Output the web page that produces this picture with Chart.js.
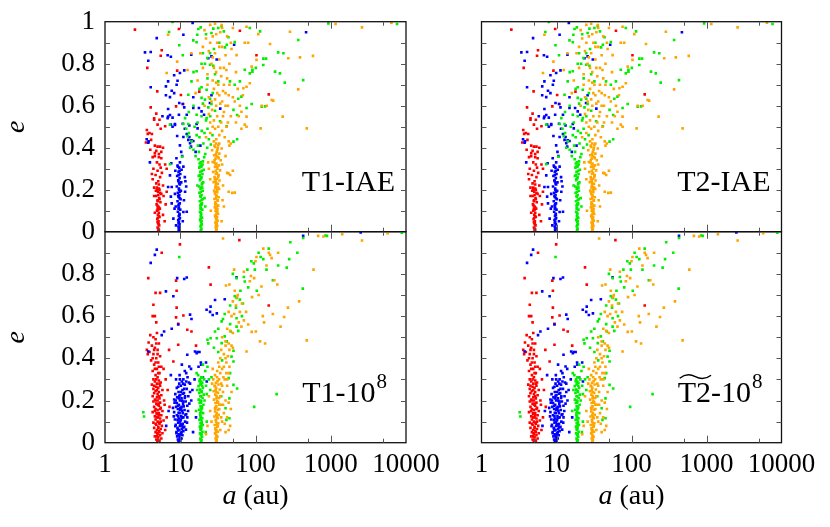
<!DOCTYPE html>
<html><head><meta charset="utf-8">
<script src="https://cdn.jsdelivr.net/npm/chart.js@4/dist/chart.umd.min.js"></script>
<style>
body{margin:0;background:#fff}
#wrap{position:relative;width:830px;height:527px;overflow:hidden;font-family:'Liberation Serif'}
#wrap canvas{position:absolute;left:0;top:0}
</style>
</head><body>
<div id="wrap">
<canvas id="c1" width="830" height="527"></canvas>
<canvas id="c2" width="830" height="527"></canvas>
<canvas id="c3" width="830" height="527"></canvas>
<canvas id="c4" width="830" height="527"></canvas>
</div>
<script>
// ---- axis / tick definitions ----
const xTickValues = [1, 10, 100, 1000, 10000];
const xMarkValues = [5, 10, 50, 100, 500, 1000, 5000];
const yTickValues = [0, 0.2, 0.4, 0.6, 0.8, 1];
const yMarkValues = [0.1, 0.2, 0.3, 0.4, 0.5, 0.6, 0.7, 0.8, 0.9];
const panelNames = ['T1-IAE', 'T2-IAE', 'T1-10', 'T2-10'];
const panelSups = ['', '', '8', '8'];
const xTitleItalic = 'a';
const xTitleRest = ' (au)';
const yTitle = 'e';

// ---- IAE runs (top panels): [a (au), e] ----
const iaeRed = [[5.1,0.005],[5.2,0.01],[5.0,0.02],[5.25,0.03],[5.1,0.04],[5.15,0.05],[4.95,0.06],[5.3,0.07],[5.05,0.08],[5.2,0.09],[4.9,0.1],[5.35,0.11],[5.1,0.12],[4.85,0.13],[5.45,0.14],[5.0,0.15],[5.25,0.16],[4.8,0.17],[5.6,0.18],[5.05,0.19],[5.3,0.2],[4.9,0.21],[5.15,0.035],[5.05,0.065],[5.2,0.115],[5.0,0.145],[5.4,0.185],[4.75,0.195],
[5.1,0.015],[5.0,0.045],[5.2,0.075],[5.1,0.105],[4.95,0.125],[5.3,0.155],[5.1,0.175],[4.9,0.2],[5.2,0.205],[5.0,0.11],
[6.0,0.17],[6.4,0.13],[5.9,0.08],[6.2,0.05],[4.6,0.09],[4.5,0.17],[6.6,0.19],
[4.6,0.36],[5.2,0.355],[5.6,0.35],[4.9,0.33],[5.3,0.32],[4.4,0.3],[5.0,0.29],[5.7,0.28],[4.7,0.27],[5.4,0.26],[4.3,0.25],[5.1,0.24],[4.8,0.23],[5.9,0.22],[4.5,0.21],[5.2,0.225],[4.2,0.275],[5.5,0.305],
[3.6,0.484],[3.9,0.47],[4.2,0.465],[3.7,0.466],[4.1,0.437],[4.6,0.41],[5.0,0.405],[5.4,0.405],[5.9,0.4],[5.5,0.49],[4.5,0.54],[5.0,0.51],[4.6,0.374],[4.8,0.385],[5.2,0.37],[5.6,0.38],[3.5,0.425],[4.0,0.39],[4.3,0.355],[6.3,0.32],[6.6,0.3],
[2.5,0.962],[9.6,0.965],[62,0.957],[5.67,0.864],[5.5,0.838],[3.65,0.78],[103,0.84],[4.95,0.668],[10.2,0.651],[4.05,0.592],[8.8,0.597],[4.8,0.562],[150,0.654],[10.9,0.608],[4.5,0.533],[5.3,0.533],[6.3,0.502],[17.9,0.667],[9.1,0.767]];

const iaeBlue = [[9.6,0.005],[9.7,0.015],[9.5,0.025],[9.8,0.035],[9.6,0.045],[9.4,0.055],[9.9,0.065],[9.55,0.075],[9.75,0.085],[9.3,0.095],[10.0,0.105],[9.6,0.115],[9.45,0.125],[9.85,0.135],[9.2,0.145],[10.1,0.155],[9.5,0.165],[9.7,0.175],[9.3,0.185],[10.2,0.195],[9.6,0.205],[9.0,0.215],[9.9,0.225],[10.3,0.235],[9.4,0.245],[9.8,0.255],[9.1,0.265],[10.0,0.275],[9.5,0.285],[10.4,0.295],[9.7,0.305],[9.2,0.315],[9.9,0.33],[9.6,0.02],[9.7,0.06],[9.5,0.11],[9.8,0.16],[9.65,0.2],[9.45,0.24],
[9.6,0.01],[9.5,0.04],[9.8,0.08],[9.6,0.13],[9.4,0.17],[9.9,0.19],[9.7,0.23],[9.5,0.27],[9.8,0.29],[9.3,0.31],
[8.1,0.062],[11.0,0.094],[8.4,0.11],[8.7,0.12],[7.7,0.213],[6.9,0.213],[7.3,0.268],[11.2,0.15],[8.8,0.03],[10.8,0.05],[11.5,0.26],[8.6,0.29],[11.0,0.31],[8.5,0.18],[11.6,0.19],[12.0,0.215],[11.7,0.24],[12.2,0.095],[7.6,0.326],[7.5,0.167],[7.7,0.135],
[11.0,0.451],[11.5,0.49],[10.8,0.514],[13.2,0.451],[14.1,0.435],[9.9,0.411],[3.76,0.424],[3.95,0.33],[3.58,0.44],[3.8,0.43],[7.3,0.556],[6.9,0.548],[8.5,0.508],[7.9,0.5],[9.1,0.456],[12.2,0.465],[12.8,0.437],[13.5,0.421],[13.9,0.405],[14.9,0.432],[17,0.492],[10.3,0.38],[10.6,0.36],[8.9,0.35],[16,0.38],[18.5,0.41],
[3.4,0.854],[4.05,0.856],[4.87,0.922],[3.76,0.814],[6.8,0.84],[7.5,0.833],[14.6,0.994],[11.0,0.938],[14.0,0.843],[23.6,0.826],[26,0.835],[52,0.89],[11.3,0.768],[9.9,0.756],[8.3,0.745],[6.9,0.716],[9.2,0.719],[8.95,0.7],[4.05,0.688],[6.45,0.692],[7.7,0.671],[8.3,0.66],[6.45,0.65],[7.3,0.641],[14.9,0.64],[9.7,0.613],[10.8,0.608],[11.3,0.592],[14.9,0.589],[6.9,0.584],[5.8,0.55],[6.8,0.541],[7.9,0.543],[9.6,0.557],[12.2,0.557],[17.7,0.589],[19.2,0.573],[20.7,0.557],[26,0.65],[24.8,0.613],[34,0.586],[7.5,0.51],[8.5,0.513],[13.2,0.506],[16.5,0.513],[470,0.95],[30.5,0.82]];

const iaeGreen = [[18.8,0.005],[19.1,0.015],[18.6,0.025],[19.3,0.035],[18.9,0.045],[18.4,0.055],[19.5,0.065],[18.7,0.075],[19.0,0.085],[18.3,0.095],[19.6,0.105],[18.8,0.115],[18.5,0.125],[19.4,0.135],[18.2,0.145],[19.8,0.155],[18.7,0.165],[19.2,0.175],[18.0,0.185],[19.9,0.195],[18.6,0.205],[17.8,0.215],[19.4,0.225],[20.2,0.235],[18.3,0.245],[19.0,0.255],[17.6,0.265],[19.7,0.275],[18.5,0.285],[20.5,0.295],[17.9,0.305],[19.2,0.315],[18.1,0.325],[20.0,0.335],[17.5,0.345],[18.9,0.03],[19.1,0.07],[18.6,0.11],[19.2,0.15],[18.8,0.19],[19.5,0.23],[18.2,0.27],[19.0,0.31],
[18.9,0.01],[19.2,0.05],[18.7,0.09],[19.3,0.13],[18.5,0.17],[19.6,0.21],[18.4,0.25],[19.4,0.29],[18.7,0.33],[19.0,0.21],[18.9,0.13],[19.1,0.26],[18.3,0.31],[19.8,0.32],[18.6,0.06],
[16.0,0.36],[21.5,0.37],[15.0,0.39],[22.8,0.4],[17.2,0.41],[20.3,0.42],[14.2,0.43],[24.0,0.44],[18.0,0.45],[16.5,0.46],[21.0,0.47],[19.3,0.48],[15.5,0.5],[23.0,0.49],[17.7,0.38],[20.8,0.355],[13.5,0.4],[25.5,0.415],[26.8,0.46],[12.5,0.455],
[21.5,0.12],[21.0,0.16],[16.9,0.22],[7.3,0.322],[10.6,0.357],[13.0,0.47],[12.0,0.49],
[17,0.52],[22,0.53],[25,0.55],[15,0.6],[20,0.61],[27,0.66],[18,0.68],[23,0.73],[29,0.75],[15,0.76],[20,0.85],[28,0.87],[33,0.9],[22,0.94],[13,0.57],
[7.9,0.999],[7.1,0.951],[9.7,0.888],[10.8,0.84],[16.8,0.938],[17.4,0.965],[18.7,0.973],[14.9,0.911],[16.5,0.902],[26,0.946],[27.5,0.967],[32,0.97],[35.5,0.978],[38,0.954],[43.7,0.926],[41.5,0.89],[39.3,0.878],[53,0.903],[84,0.97],[115,0.954],[101,0.78],[91,0.771],[72,0.771],[19.2,0.8],[21.3,0.8],[24.9,0.795],[27.5,0.79],[22.9,0.827],[24.9,0.85],[16.5,0.764],[14.1,0.716],[19.2,0.688],[22.4,0.676],[32,0.716],[45.8,0.716],[62,0.716],[53,0.7],[12.8,0.652],[19.2,0.637],[21.3,0.629],[24.9,0.633],[26,0.608],[23.6,0.592],[29,0.576],[127,0.824],[138,0.824],[134,0.597],[76,0.589],[59,0.633],[16.5,0.557],[19.2,0.55],[22.4,0.541],[11.6,0.541],[7.3,0.51],[11,0.513],[12.8,0.513],[33.8,0.526],[41.5,0.502],[930,0.992],[7600,0.989],[370,0.913],[200,0.854],[235,0.85],[430,0.722],[245,0.71],[182,0.762],[211,0.754],[127,0.794],[84,0.754],[91,0.762],[121,0.595],[89,0.608],[65,0.643],[51,0.58],[57,0.556],[51,0.429],[57,0.44]];

const iaeOrange = [[30.0,0.005],[30.5,0.012],[29.6,0.02],[31.0,0.028],[30.2,0.036],[29.2,0.044],[31.4,0.052],[30.0,0.06],[30.8,0.068],[29.0,0.076],[31.8,0.084],[30.3,0.092],[29.5,0.1],[31.2,0.108],[28.8,0.116],[32.0,0.124],[30.1,0.132],[29.3,0.14],[31.5,0.148],[28.5,0.156],[32.4,0.164],[30.4,0.172],[29.0,0.18],[31.0,0.188],[28.2,0.196],[32.8,0.204],[30.0,0.212],[29.6,0.22],[31.6,0.228],[27.8,0.236],[33.2,0.244],[30.6,0.252],[28.6,0.26],[32.2,0.268],[29.8,0.276],[27.4,0.284],[33.8,0.292],[31.2,0.3],[28.9,0.308],[32.6,0.316],[30.2,0.324],[27.0,0.332],[34.5,0.34],[29.4,0.348],[31.8,0.356],[28.2,0.364],[33.0,0.372],[30.5,0.38],[26.5,0.388],[35.5,0.396],[29.0,0.404],[32.0,0.412],[30.0,0.42],[28.0,0.43],
[30.4,0.04],[29.8,0.08],[30.6,0.12],[29.9,0.16],[30.9,0.2],[29.7,0.24],[30.7,0.28],[29.5,0.32],[30.3,0.36],[31.5,0.4],[30.1,0.44],[31.0,0.1],[29.3,0.21],[31.9,0.26],[28.6,0.34],
[30.2,0.015],[29.9,0.03],[30.5,0.055],[29.4,0.07],[31.1,0.09],[30.0,0.11],[29.1,0.13],[31.3,0.15],[30.2,0.17],[28.7,0.19],[31.7,0.21],[30.0,0.23],[28.9,0.25],[32.0,0.27],[29.6,0.29],[31.0,0.31],[28.3,0.33],[32.4,0.35],[29.8,0.37],[31.2,0.39],[28.6,0.41],[33,0.42],
[42,0.28],[46,0.27],[50,0.29],[44,0.19],[49,0.185],[53,0.186],[43.7,0.278],[45,0.41],[47,0.42],[44,0.43],[65,0.49],[72,0.51],[76,0.5],[24,0.3],[23.5,0.33],[25,0.25],[37,0.22],[38,0.12],[36,0.32],[40,0.36],[35.5,0.05],[36.5,0.15],[25.5,0.1],
[22,0.45],[25,0.47],[27,0.5],[33,0.46],[36,0.48],[39,0.45],[28,0.53],[31,0.55],[35,0.52],[41,0.5],[24,0.56],[26.5,0.58],[30,0.6],[34,0.61],[38,0.57],[43,0.6],[47,0.55],[29,0.63],[33,0.65],[37,0.67],[21,0.6],[24,0.64],[28,0.68],[32,0.7],[40,0.66],[45,0.7],[50,0.64],[27,0.72],[35,0.74],[42,0.73],[23,0.7],[30,0.76],[38,0.78],[26,0.8],[33,0.82],[29,0.85],[24,0.86],[36,0.88],[31,0.9],[27,0.93],[34,0.95],[22,0.92],[40,0.84],[45,0.8],[48,0.87],[55,0.76],[58,0.68],[62,0.6],[53,0.62],[68,0.65],[55,0.52],[60,0.55],
[25,0.52],[29,0.49],[32,0.5],[37,0.55],[43,0.52],[26,0.62],[31,0.66],[36,0.62],[40,0.6],[44,0.65],[23,0.75],[28,0.78],[34,0.78],[41,0.77],[25,0.9],[30,0.94],[36,0.97],[42,0.93],[20,0.88],[47,0.9],[50,0.97],[33,0.88],[38,0.7],[30,0.71],[27,0.83],
[1160,0.989],[2600,0.973],[6400,0.995],[580,0.837],[390,0.83],[273,0.826],[370,0.678],[480,0.492],[287,0.952],[156,0.894],[230,0.548],[164,0.627],[172,0.624],[141,0.6],[121,0.6],[117,0.492],[89,0.786],[103,0.818],[109,0.941],[76,0.976],[72,0.9],[80,0.9],[56,0.841],[69,0.683],[76,0.69],[84,0.707],[65,0.571],[76,0.548],[18.5,0.85],[17,0.72],[16,0.66],[20,0.78],[21,0.96],[25,0.985],[29,0.99],[14,0.85],[12.5,0.77],[35.5,0.984],[6.6,0.756],[9.1,0.81],[6.9,0.938]];

// ---- 10^8 yr runs (bottom panels): [a (au), e] ----
const gyrRed = [[5.0,0.005],[5.3,0.01],[4.8,0.015],[5.6,0.02],[5.1,0.025],[4.6,0.03],[5.4,0.035],[5.0,0.04],[5.8,0.045],[4.7,0.05],[5.2,0.055],[4.9,0.06],[5.5,0.065],[4.5,0.07],[5.1,0.075],[5.7,0.08],[4.8,0.085],[5.3,0.09],[4.4,0.095],[5.0,0.1],[6.0,0.105],[4.7,0.11],[5.4,0.115],[5.1,0.12],[4.6,0.125],[5.6,0.13],[4.9,0.135],[5.2,0.14],[4.3,0.145],[5.8,0.15],[5.0,0.155],[4.7,0.16],[5.5,0.165],[4.5,0.17],[5.2,0.175],[6.2,0.18],[4.8,0.185],[5.4,0.19],[4.4,0.195],[5.0,0.2],
[5.0,0.0075],[4.9,0.03],[5.3,0.05],[5.1,0.07],[4.7,0.09],[5.5,0.1],[4.9,0.12],[5.2,0.13],[4.6,0.15],[5.4,0.16],[5.0,0.18],[4.7,0.2],[5.2,0.22],[4.9,0.25],[4.5,0.27],[5.3,0.28],[4.8,0.3],[5.1,0.33],[4.6,0.35],[5.2,0.36],[4.7,0.38],[4.3,0.4],[5.0,0.42],[4.5,0.44],[4.8,0.47],
[4.6,0.205],[5.3,0.21],[4.9,0.215],[4.3,0.22],[5.6,0.225],[5.0,0.23],[4.5,0.235],[5.2,0.24],[4.7,0.245],[5.8,0.25],[4.4,0.255],[5.1,0.26],[4.8,0.265],[5.4,0.27],[4.2,0.275],[4.9,0.28],[5.5,0.285],[4.6,0.29],[5.2,0.295],[4.4,0.3],[5.0,0.31],[4.7,0.32],[5.3,0.33],[4.3,0.34],[4.9,0.35],[5.6,0.36],[4.5,0.37],[5.1,0.38],[4.1,0.39],[4.8,0.4],[5.4,0.41],[4.4,0.42],[3.9,0.43],[5.0,0.44],[4.6,0.45],[4.2,0.46],[5.2,0.47],[3.8,0.475],[4.7,0.49],[4.4,0.5],[4.0,0.51],[4.9,0.52],
[6.3,0.06],[6.6,0.12],[6.1,0.2],[6.8,0.25],[6.4,0.3],[7.2,0.17],[6.0,0.35],[3.6,0.44],[3.7,0.42],[5.05,0.012],[4.95,0.045],[5.25,0.095],[4.85,0.14],[5.15,0.185],
[3.76,0.78],[4.7,0.71],[5.4,0.71],[4.4,0.654],[4.3,0.6],[4.6,0.6],[4.8,0.57],[5.67,0.9],[8.8,0.768],[8.8,0.594],[9.4,0.563],[11,0.603],[12.4,0.535],[14.1,0.527],[16.2,0.46],[9.4,0.464],[7.1,0.44],[8.1,0.385],[24,0.831],[25.3,0.749],[61,0.96],[150,0.65],[9.9,0.94],[8.95,0.64],[8.95,0.72]];

const gyrBlue = [[9.6,0.005],[10.0,0.01],[9.3,0.015],[10.4,0.02],[9.8,0.025],[9.1,0.03],[10.7,0.035],[9.5,0.04],[10.2,0.045],[8.9,0.05],[11.0,0.055],[9.7,0.06],[10.5,0.065],[9.2,0.07],[11.3,0.075],[9.9,0.08],[8.7,0.085],[10.8,0.09],[9.4,0.095],[11.6,0.1],[10.1,0.105],[8.5,0.11],[9.6,0.115],[11.0,0.12],[10.3,0.125],[9.0,0.13],[12.0,0.135],[9.8,0.14],[8.3,0.145],[10.6,0.15],[11.4,0.155],[9.3,0.16],[10.0,0.165],[8.8,0.17],[12.4,0.175],[9.6,0.18],[10.9,0.185],[8.4,0.19],[11.8,0.195],[9.9,0.2],[10.4,0.21],[9.1,0.215],[12.8,0.22],[10.0,0.225],[8.6,0.23],[11.2,0.235],[9.5,0.24],[10.7,0.25],[12.2,0.255],[9.0,0.26],[10.2,0.27],[11.5,0.275],[9.7,0.28],[13.0,0.285],[10.5,0.29],[11.0,0.3],[12.5,0.31],[9.8,0.32],
[9.9,0.012],[10.3,0.038],[9.4,0.058],[10.9,0.072],[10.1,0.088],[9.2,0.108],[10.6,0.118],[11.7,0.132],[9.5,0.142],[10.3,0.158],[11.1,0.172],[9.0,0.188],[10.6,0.198],[11.5,0.212],[9.7,0.222],[10.8,0.232],[8.9,0.045],[11.9,0.062],[8.6,0.078],[12.3,0.095],[8.2,0.125],[12.7,0.15],[8.0,0.165],[13.2,0.185],[8.3,0.205],[13.5,0.24],
[9.5,0.008],[10.1,0.02],[9.7,0.035],[10.4,0.05],[9.3,0.065],[10.6,0.08],[9.8,0.1],[10.2,0.11],[9.4,0.125],[10.8,0.14],[9.9,0.155],[10.4,0.17],[9.3,0.175],[11.0,0.195],[9.6,0.21],[10.2,0.24],[11.3,0.255],[9.4,0.265],[10.9,0.28],[9.9,0.3],[12.0,0.29],[8.8,0.3],[11.6,0.22],[12.4,0.12],[8.7,0.2],
[12.4,0.417],[13.2,0.361],[13.9,0.35],[15.7,0.432],[16.5,0.424],[22,0.38],[17,0.43],[18,0.43],[19,0.37],[13.5,0.607],[14.1,0.586],[22.4,0.63],[24.9,0.62],[25.3,0.645],[29,0.676],[30.6,0.613],[27,0.605],[39,0.68],[56,0.784],[6.45,0.717],[8.1,0.694],[6.1,0.527],[5.67,0.51],[7.7,0.54],[9.4,0.56],[9.1,0.78],[11.3,0.776],[12.2,0.783],[4.87,0.915],[4.6,0.89],[4.05,0.852],[430,0.98],[2500,0.997],[3.76,0.432],[17.5,0.36],[18.8,0.38],[13.5,0.28],[14.5,0.25],[14.0,0.2],[15.5,0.3],[16.2,0.12],[14.8,0.05],[20,0.31],[22.5,0.29],[6.5,0.08],[7.0,0.15],[7.5,0.32],[11.5,0.34],[10.5,0.37],[12.0,0.33]];

const gyrGreen = [[18.8,0.005],[19.2,0.012],[18.5,0.02],[19.5,0.028],[18.9,0.036],[18.3,0.044],[19.7,0.052],[18.7,0.06],[19.1,0.068],[18.2,0.076],[19.9,0.084],[18.6,0.092],[19.3,0.1],[18.0,0.108],[19.6,0.116],[18.8,0.124],[18.4,0.132],[20.1,0.14],[18.9,0.148],[17.8,0.156],[19.4,0.164],[18.6,0.172],[20.3,0.18],[18.1,0.188],[19.0,0.196],[17.6,0.204],[19.8,0.212],[18.5,0.22],[20.5,0.228],[17.9,0.236],[19.2,0.244],[18.3,0.252],[20.0,0.26],[17.5,0.268],[18.8,0.276],[19.6,0.284],[18.0,0.292],[20.8,0.3],[19.0,0.31],[17.3,0.32],[18.9,0.04],[19.0,0.08],[18.7,0.12],[19.1,0.16],[18.6,0.2],[19.3,0.24],
[18.8,0.015],[19.1,0.04],[18.6,0.065],[19.3,0.09],[18.9,0.11],[18.5,0.14],[19.4,0.17],[18.7,0.19],[19.0,0.22],[18.4,0.25],[19.5,0.27],[18.9,0.29],[18.3,0.3],[19.7,0.31],[18.6,0.28],
[3.23,0.144],[3.3,0.124],[96,0.17],[191,0.23],[16.5,0.33],[21.5,0.34],[22,0.27],[21,0.2],[16.8,0.25],[22.5,0.1],[21.8,0.05],[16.2,0.15],[23,0.36],[20,0.37],
[8800,0.995],[890,0.98],[850,0.982],[430,0.97],[360,0.9],[280,0.87],[290,0.95],[260,0.83],[200,0.84],[117,0.88],[127,0.87],[110,0.9],[98,0.82],[95,0.85],[140,0.82],[170,0.77],[425,0.73],[50,0.8],[56,0.78],[70,0.785],[72,0.764],[80,0.736],[9.7,0.88],[53,0.694],[56,0.686],[62,0.678],[46,0.65],[55,0.64],[66,0.6],[56,0.59],[39,0.61],[37,0.586],[35.5,0.575],[46,0.562],[56,0.55],[59,0.53],[47,0.527],[32,0.54],[29,0.527],[30.6,0.495],[23,0.488],[25.3,0.495],[23.6,0.471],[39,0.504],[41.5,0.48],[35.5,0.472],[51,0.436],[48,0.408],[51,0.385],[46,0.33],[44,0.306],[51,0.274],[57,0.257],[45,0.21],[40,0.163],[45,0.116],[41,0.108],[24,0.3],[26,0.31],[22.5,0.23],[25,0.25],[31,0.19],[35,0.22],[63,0.72],[78,0.82],[88,0.86],[150,0.92],[32,0.43],[28,0.45],[36,0.39],[68,0.66],[104,0.72]];

const gyrOrange = [[30.0,0.005],[30.6,0.012],[29.5,0.02],[31.2,0.028],[30.1,0.036],[29.0,0.044],[31.6,0.052],[30.3,0.06],[29.3,0.068],[31.0,0.076],[28.7,0.084],[32.0,0.092],[30.0,0.1],[29.6,0.108],[31.4,0.116],[28.4,0.124],[32.4,0.132],[30.5,0.14],[29.1,0.148],[31.8,0.156],[28.9,0.164],[30.2,0.172],[33.0,0.18],[29.4,0.188],[31.1,0.196],[28.1,0.204],[32.7,0.212],[30.4,0.22],[29.2,0.228],[31.7,0.236],[27.8,0.244],[33.5,0.252],[30.0,0.26],[28.6,0.268],[32.2,0.276],[29.8,0.284],[31.3,0.292],[27.5,0.3],[30.8,0.31],[29.0,0.32],[30.2,0.02],[29.9,0.05],[30.7,0.09],[30.0,0.13],[29.7,0.17],[30.4,0.21],[29.5,0.25],
[30.4,0.03],[29.6,0.06],[31.5,0.08],[30.8,0.12],[29.3,0.16],[31.9,0.19],[30.2,0.24],[32.8,0.3],[29.0,0.27],[34,0.22],[35,0.12],[33,0.16],[37,0.18],[39,0.09],[36,0.27],[38,0.36],[42,0.3],[40,0.4],[34,0.33],[31,0.34],
[34,0.06],[36,0.1],[38,0.14],[35,0.18],[40,0.2],[37,0.24],[42,0.27],[39,0.3],[44,0.33],[36,0.35],[41,0.38],[34,0.4],[38,0.42],[45,0.36],[43,0.41],[33,0.36],[46,0.08],[44,0.06],[42,0.12],[47,0.16],[26,0.1],[25,0.15],[24,0.22],[26.5,0.28],[27,0.35],[40,0.05],[44,0.19],[35,0.28],[37.5,0.31],[32,0.38],[41,0.33],[48,0.24],[45,0.44],[40,0.46],[35,0.44],[22,0.04],[23,0.08],
[37,0.968],[680,0.98],[800,0.977],[1420,0.988],[5700,0.993],[2600,0.958],[590,0.82],[380,0.67],[480,0.485],[240,0.596],[215,0.55],[170,0.61],[125,0.6],[130,0.57],[115,0.48],[134,0.47],[101,0.527],[89,0.525],[76,0.432],[100,0.86],[103,0.88],[156,0.89],[164,0.875],[150,0.9],[127,0.92],[178,0.77],[195,0.75],[87,0.79],[96,0.78],[84,0.765],[40.5,0.745],[45,0.75],[50,0.67],[55,0.65],[58,0.7],[62,0.62],[48,0.6],[52,0.61],[42,0.54],[46,0.53],[50,0.52],[36,0.5],[40,0.48],[44,0.47],[48,0.46],[50,0.45],[57,0.69],[60,0.57],[65,0.55],[70,0.58],[75,0.62],[80,0.56],[110,0.7],[120,0.74],[70,0.81],[66,0.66],[53,0.72],[140,0.84],[200,0.9],[90,0.69],[270,0.64],[52,0.82],[44,0.62]];

// ---- drawing ----
const FONT = "'Liberation Serif', 'Times New Roman', serif";
const COLORS = {red:'#ff0000', blue:'#0000ff', green:'#00ee00', orange:'#ffa500'};
Chart.defaults.font.family = FONT;

const panelPlugin = {
  id: 'panel',
  afterDraw(chart, args, o) {
    const {ctx, chartArea: a, scales: {x, y}} = chart;
    ctx.save();
    ctx.strokeStyle = '#111'; ctx.lineWidth = 1.3;
    ctx.strokeRect(a.left, a.top, a.right - a.left, a.bottom - a.top);
    ctx.strokeStyle = '#555'; ctx.lineWidth = 1;
    ctx.beginPath();
    xMarkValues.forEach(v => {
      const px = Math.round(x.getPixelForValue(v)) + 0.5;
      const L = xTickValues.includes(v) ? 7 : 4;
      ctx.moveTo(px, a.bottom); ctx.lineTo(px, a.bottom - L);
      ctx.moveTo(px, a.top); ctx.lineTo(px, a.top + L);
    });
    yMarkValues.forEach(v => {
      const py = Math.round(y.getPixelForValue(v)) + 0.5;
      ctx.moveTo(a.left, py); ctx.lineTo(a.left + 5, py);
      ctx.moveTo(a.right, py); ctx.lineTo(a.right - 5, py);
    });
    ctx.stroke();
    ctx.fillStyle = '#000';
    ctx.textBaseline = 'alphabetic';
    ctx.textAlign = 'left';
    const base = a.bottom - 41;
    ctx.font = '30px ' + FONT;
    const mainW = ctx.measureText(o.name).width;
    let supW = 0;
    if (o.sup) { ctx.font = '21px ' + FONT; supW = ctx.measureText(o.sup).width + 1; }
    const startX = a.right - o.gap - mainW - supW;
    ctx.font = '30px ' + FONT;
    ctx.fillText(o.name, startX, base);
    if (o.sup) { ctx.font = '21px ' + FONT; ctx.fillText(o.sup, startX + mainW + 1, base - 14); }
    if (o.tilde) {
      ctx.font = '30px ' + FONT;
      const w = ctx.measureText('T2').width;
      const x0 = startX + 2, x1 = startX + w, ty = base - 25;
      const ww = x1 - x0;
      ctx.beginPath();
      ctx.lineWidth = 1.4; ctx.strokeStyle = '#000';
      ctx.moveTo(x0, ty + 1.5);
      ctx.bezierCurveTo(x0 + ww * 0.2, ty - 3.5, x0 + ww * 0.35, ty - 2.5, x0 + ww * 0.5, ty);
      ctx.bezierCurveTo(x0 + ww * 0.65, ty + 2.5, x0 + ww * 0.8, ty + 3.5, x1, ty - 1.5);
      ctx.stroke();
    }
    if (o.xTitle) {
      ctx.font = 'italic 28px ' + FONT;
      const w1 = ctx.measureText(xTitleItalic).width;
      ctx.font = '28px ' + FONT;
      const w2 = ctx.measureText(xTitleRest).width;
      const cx = (a.left + a.right) / 2;
      const sx = cx - (w1 + w2) / 2;
      ctx.font = 'italic 28px ' + FONT;
      ctx.fillText(xTitleItalic, sx, 504);
      ctx.font = '28px ' + FONT;
      ctx.fillText(xTitleRest, sx + w1, 504);
    }
    ctx.restore();
  }
};

function toPts(arr) { return arr.map(p => ({x: p[0], y: p[1]})); }

function makeChart(id, set, cfg) {
  const mk = (data, color, order) => ({
    data: toPts(data), backgroundColor: color, borderWidth: 0,
    pointStyle: 'rect', pointRadius: 1.85, pointHoverRadius: 1.85, order: order, clip: 0
  });
  const yTicksUsed = cfg.bottom ? yTickValues.filter(v => v < 1) : yTickValues;
  return new Chart(document.getElementById(id), {
    type: 'scatter',
    data: { datasets: [
      mk(set[0], COLORS.red, 4), mk(set[1], COLORS.blue, 3),
      mk(set[2], COLORS.green, 2), mk(set[3], COLORS.orange, 1)
    ]},
    options: {
      responsive: false, animation: false, events: [],
      layout: { padding: cfg.pad },
      plugins: { legend: {display: false}, tooltip: {enabled: false},
        panel: { name: cfg.name, sup: cfg.sup, tilde: cfg.tilde, gap: cfg.gap, xTitle: cfg.bottom } },
      scales: {
        x: {
          type: 'logarithmic', min: 1, max: 10000, display: cfg.bottom,
          grid: {display: false, drawTicks: false}, border: {display: false},
          afterBuildTicks: s => { s.ticks = xTickValues.map(v => ({value: v})); },
          afterFit: s => { if (cfg.bottom) s.height = 84.3; s.paddingLeft = 0; s.paddingRight = 0; s.paddingTop = 0; s.paddingBottom = 0; },
          ticks: { autoSkip: false, maxRotation: 0, minRotation: 0, padding: 6, color: '#000',
            font: {family: FONT, size: 27}, callback: v => String(v) }
        },
        y: {
          type: 'linear', min: 0, max: 1, display: cfg.left,
          grid: {display: false, drawTicks: false}, border: {display: false},
          afterBuildTicks: s => { s.ticks = yTicksUsed.map(v => ({value: v})); },
          afterFit: s => { if (cfg.left) s.width = 105; s.paddingLeft = 0; s.paddingRight = 0; s.paddingTop = 0; s.paddingBottom = 0; },
          ticks: { padding: 10, color: '#000', font: {family: FONT, size: 27},
            callback: v => (v === 0 || v === 1) ? String(v) : v.toFixed(1) },
          title: { display: true, text: yTitle, color: '#000', padding: 0,
            font: {family: FONT, size: 28, style: 'italic'} }
        }
      }
    },
    plugins: [panelPlugin]
  });
}

const iaeSet = [iaeRed, iaeBlue, iaeGreen, iaeOrange];
const gyrSet = [gyrRed, gyrBlue, gyrGreen, gyrOrange];

const charts = [
  makeChart('c1', iaeSet, {pad: {left: 0, top: 21.7, right: 424, bottom: 295.3}, left: true, bottom: false, name: panelNames[0], sup: panelSups[0], tilde: false, gap: 11}),
  makeChart('c2', iaeSet, {pad: {left: 481.5, top: 21.7, right: 48.5, bottom: 295.3}, left: false, bottom: false, name: panelNames[1], sup: panelSups[1], tilde: false, gap: 11}),
  makeChart('c3', gyrSet, {pad: {left: 0, top: 231.7, right: 424, bottom: 0}, left: true, bottom: true, name: panelNames[2], sup: panelSups[2], tilde: false, gap: 19}),
  makeChart('c4', gyrSet, {pad: {left: 481.5, top: 231.7, right: 48.5, bottom: 0}, left: false, bottom: true, name: panelNames[3], sup: panelSups[3], tilde: true, gap: 19})
];
</script>
</body></html>
